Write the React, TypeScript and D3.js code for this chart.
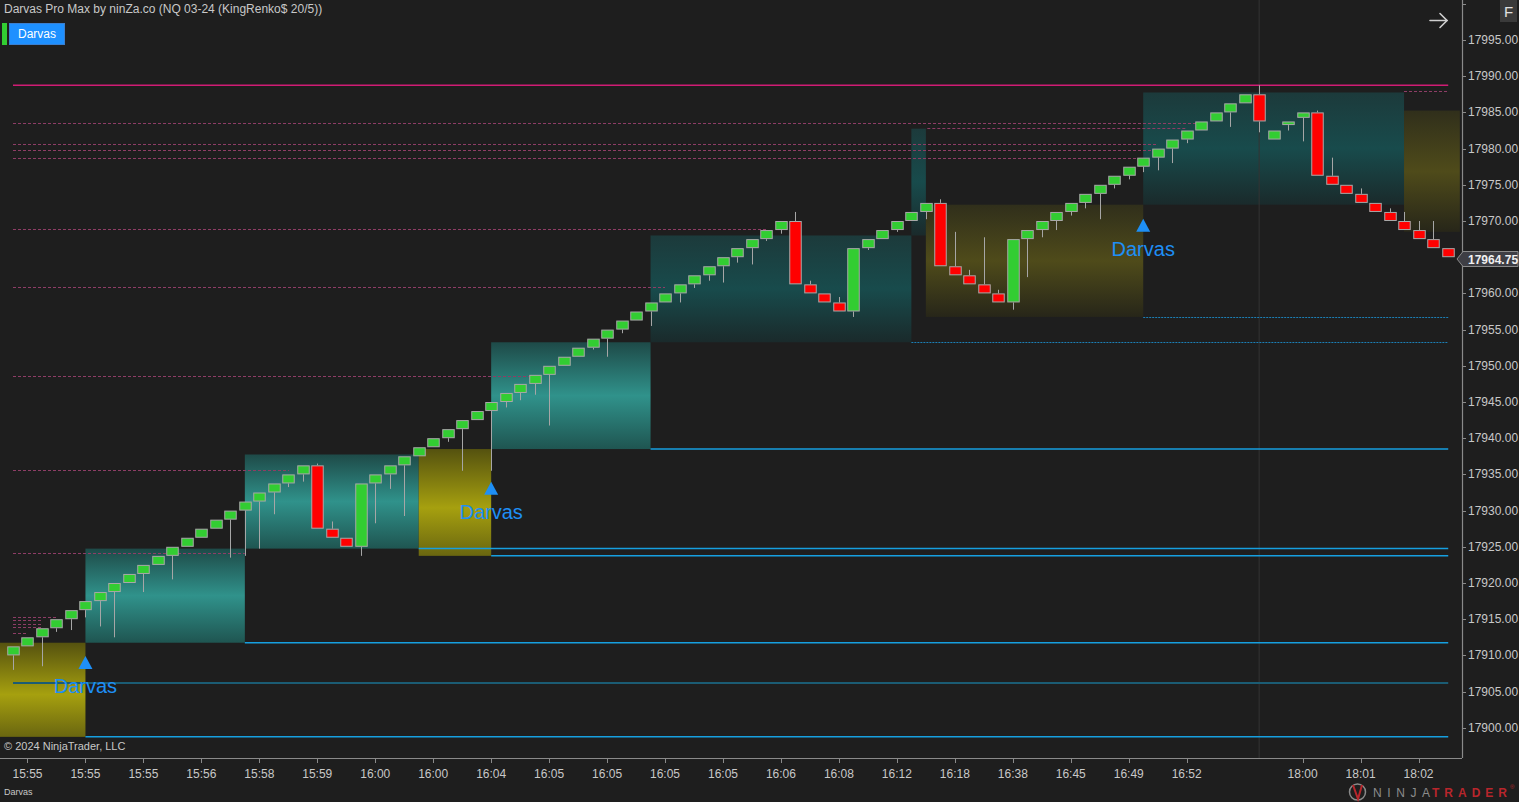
import React from 'react';
import * as d3 from 'd3';

// ---- Renko bars (KingRenko 20/5, NQ 03-24) ----
const opens = [
  17910, 17911.25, 17912.5, 17913.75, 17915, 17916.25, 17917.5, 17918.75, 17920, 17921.25,
  17922.5, 17923.75, 17925, 17926.25, 17927.5, 17928.75, 17930, 17931.25, 17932.5, 17933.75,
  17935, 17936.25, 17927.5, 17926.25, 17925, 17933.75, 17935, 17936.25, 17937.5, 17938.75,
  17940, 17941.25, 17942.5, 17943.75, 17945, 17946.25, 17947.5, 17948.75, 17950, 17951.25,
  17952.5, 17953.75, 17955, 17956.25, 17957.5, 17958.75, 17960, 17961.25, 17962.5, 17963.75,
  17965, 17966.25, 17967.5, 17968.75, 17970, 17961.25, 17960, 17958.75, 17957.5, 17966.25,
  17967.5, 17968.75, 17970, 17971.25, 17972.5, 17963.75, 17962.5, 17961.25, 17960, 17958.75,
  17967.5, 17968.75, 17970, 17971.25, 17972.5, 17973.75, 17975, 17976.25, 17977.5, 17978.75,
  17980, 17981.25, 17982.5, 17983.75, 17985, 17986.25, 17987.5, 17981.25, 17983.25, 17984.25,
  17985, 17976.25, 17975, 17973.75, 17972.5, 17971.25, 17970, 17968.75, 17967.5, 17966.25,
];
const closes = [
  17911.25, 17912.5, 17913.75, 17915, 17916.25, 17917.5, 17918.75, 17920, 17921.25, 17922.5,
  17923.75, 17925, 17926.25, 17927.5, 17928.75, 17930, 17931.25, 17932.5, 17933.75, 17935,
  17936.25, 17927.5, 17926.25, 17925, 17933.75, 17935, 17936.25, 17937.5, 17938.75, 17940,
  17941.25, 17942.5, 17943.75, 17945, 17946.25, 17947.5, 17948.75, 17950, 17951.25, 17952.5,
  17953.75, 17955, 17956.25, 17957.5, 17958.75, 17960, 17961.25, 17962.5, 17963.75, 17965,
  17966.25, 17967.5, 17968.75, 17970, 17961.25, 17960, 17958.75, 17957.5, 17966.25, 17967.5,
  17968.75, 17970, 17971.25, 17972.5, 17963.75, 17962.5, 17961.25, 17960, 17958.75, 17967.5,
  17968.75, 17970, 17971.25, 17972.5, 17973.75, 17975, 17976.25, 17977.5, 17978.75, 17980,
  17981.25, 17982.5, 17983.75, 17985, 17986.25, 17987.5, 17983.75, 17982.5, 17983.75, 17985,
  17976.25, 17975, 17973.75, 17972.5, 17971.25, 17970, 17968.75, 17967.5, 17966.25, 17965,
];
const highs = [
  17911.25, 17912.5, 17913.75, 17915, 17916.25, 17917.5, 17918.75, 17920, 17921.25, 17922.5,
  17923.75, 17925, 17926.25, 17927.5, 17928.75, 17930, 17931.25, 17932.5, 17933.75, 17935,
  17936.25, 17936.5, 17928.5, 17926.25, 17933.75, 17935, 17936.25, 17937.5, 17938.75, 17940,
  17941.25, 17942.5, 17943.75, 17945, 17946.25, 17947.5, 17948.75, 17950, 17951.25, 17952.5,
  17953.75, 17955, 17956.25, 17957.5, 17958.75, 17960, 17961.25, 17962.5, 17963.75, 17965,
  17966.25, 17967.5, 17968.75, 17970, 17971.25, 17961.75, 17960, 17959.5, 17966.25, 17967.5,
  17968.75, 17970, 17971.25, 17972.5, 17973, 17968.5, 17963.25, 17967.75, 17960.5, 17967.5,
  17968.75, 17970, 17971.25, 17972.5, 17973.75, 17975, 17976.25, 17977.5, 17978.75, 17980,
  17981.25, 17982.5, 17983.75, 17985, 17986.25, 17987.5, 17988.75, 17982.5, 17983.75, 17985,
  17985.25, 17978.75, 17975, 17974.5, 17972.5, 17971.75, 17971.25, 17970, 17970, 17966.25,
];
const lows = [
  17908, 17911.25, 17908.5, 17913.25, 17913.5, 17915.25, 17914, 17912.5, 17920, 17918.75,
  17922.5, 17920.5, 17925, 17926.25, 17927.5, 17923.5, 17923.75, 17924.75, 17929.5, 17933.25,
  17934, 17927.5, 17926.25, 17925, 17923.75, 17928.25, 17933, 17929.25, 17937.5, 17938.75,
  17939.5, 17935.5, 17942.5, 17935.5, 17944.25, 17945.25, 17946, 17941.75, 17950, 17951.25,
  17952.25, 17951.25, 17954.5, 17956.25, 17955.5, 17958.75, 17958.75, 17960.75, 17961.75, 17961.5,
  17964.25, 17964, 17967.25, 17968.25, 17961.25, 17960, 17958.75, 17957.5, 17956.75, 17966,
  17967.5, 17968.5, 17970, 17970.25, 17963.75, 17962.5, 17961.25, 17960, 17958.75, 17957.75,
  17962.25, 17967.75, 17968.75, 17970.75, 17971.75, 17970.25, 17974.5, 17975.75, 17976.75, 17977,
  17978, 17980.75, 17982.5, 17983.75, 17983, 17986.25, 17982.25, 17981.25, 17982.5, 17981,
  17976.25, 17975, 17973.75, 17972.5, 17971.25, 17970, 17968.75, 17967.5, 17966.25, 17965,
];
const lastPrice = 17964.75;

// ---- time axis ----
const tickBars = [1, 5, 9, 13, 17, 21, 25, 29, 33, 37, 41, 45, 49, 53, 57, 61, 65, 69, 73, 77, 81, 89, 93, 97];
const timeLabels = ['15:55', '15:55', '15:55', '15:56', '15:58', '15:59', '16:00', '16:00', '16:04', '16:05', '16:05', '16:05',
  '16:05', '16:06', '16:08', '16:12', '16:18', '16:38', '16:45', '16:49', '16:52', '18:00', '18:01', '18:02'];
const sessionBreakBar = 86;

// ---- price axis ----
const priceTicks = [17900, 17905, 17910, 17915, 17920, 17925, 17930, 17935, 17940, 17945, 17950, 17955,
  17960, 17965, 17970, 17975, 17980, 17985, 17990, 17995, 18000];

// ---- Darvas boxes: [startBar, endBar, top, bottom, type] ----
const boxStart = [-0.9, 5, 16, 28, 33, 44, 62, 63, 78, 96];
const boxEnd = [5, 16, 28, 33, 44, 62, 63, 78, 96, 99.85];
const boxTop = [17911.75, 17924.75, 17937.75, 17938.5, 17953.25, 17968, 17982.75, 17972.25, 17987.75, 17985.25];
const boxBottom = [17898.75, 17911.75, 17924.75, 17923.75, 17938.5, 17953.25, 17968, 17956.75, 17972.25, 17968.5];
const boxType = ['breakout', 'box', 'box', 'breakout', 'box', 'boxDim', 'boxDim', 'breakoutDim', 'boxDim', 'breakoutDim'];

// ---- level lines ----
const supportPrice = [17898.75, 17911.75, 17924.75, 17923.75, 17938.5];
const supportFrom = [5, 16, 28, 33, 44];
const signalLinePrice = 17906.25;
const dottedSupportPrice = [17953.25, 17956.75];
const dottedSupportFrom = [62, 78];
const resistancePrice = 17988.75;
const dashedPrice = [17983.6, 17982.8, 17980.65, 17979.85, 17978.65, 17968.85, 17960.85, 17948.55, 17935.6, 17924.1,
  17915.25, 17914.85, 17914.3, 17913.9, 17913.05, 17987.9];
const dashedFrom = [0, 63.1, 0, 0, 0, 0, 0, 0, 0, 0, 0, 0, 0, 0, 0, 96];
const dashedTo = [81.7, 81, 79, 79.2, 77.8, 52, 45, 35.7, 19.05, 16, 3, 2.07, 2.07, 2.07, 1.03, 99.05];

// ---- Darvas signals ----
const signalBars = [5, 33, 78];
const signalPrices = [17909.9, 17934, 17970.3];

const W = 1519;
const H = 802;
const FONT = 'Liberation Sans, Arial, sans-serif';

const gradients: Record<string, [number, string][]> = {
  breakout: [[0, '#55520f'], [0.55, '#a6a00f'], [1, '#6a6610']],
  box: [[0, '#1e4a48'], [0.5, '#30928b'], [1, '#1f5551']],
  boxDim: [[0, '#1c3a3b'], [0.5, '#184b4c'], [1, '#1a2a2b']],
  breakoutDim: [[0, '#302f1b'], [0.5, '#4f4b1a'], [1, '#272619']],
};

export default function App() {
  const x = d3.scaleLinear().domain([0, 99]).range([13, 1447.5]);
  const y = d3.scaleLinear().domain([17900, 17995]).range([727.8, 40]);
  const plotRight = 1462;
  const plotBottom = 758;
  const lineEnd = x(99.05);
  const bw = 11.5;
  const py = (p: number) => Math.round(y(p)) + 0.5;

  return (
    <svg width={W} height={H} style={{ position: 'fixed', left: 0, top: 0, display: 'block', background: '#1e1e1e' }}
      fontFamily={FONT}>
      <defs>
        {Object.entries(gradients).map(([k, stops]) => (
          <linearGradient key={k} id={`g-${k}`} x1="0" y1="0" x2="0" y2="1">
            {stops.map(([o, c], i) => <stop key={i} offset={o} stopColor={c} />)}
          </linearGradient>
        ))}
        <clipPath id="plot"><rect x={0} y={0} width={plotRight} height={plotBottom} /></clipPath>
      </defs>
      <rect x={0} y={0} width={W} height={H} fill="#1e1e1e" />

      <g clipPath="url(#plot)">
        {/* boxes */}
        {boxStart.map((b, i) => (
          <rect key={`box${i}`} x={x(b)} y={y(boxTop[i])} width={x(boxEnd[i]) - x(b)}
            height={y(boxBottom[i]) - y(boxTop[i])} fill={`url(#g-${boxType[i]})`} />
        ))}

        {/* session break */}
        <line x1={x(sessionBreakBar)} x2={x(sessionBreakBar)} y1={0} y2={plotBottom} stroke="#333" strokeWidth={1} />

        {/* dashed pink lines */}
        {dashedPrice.map((p, i) => (
          <line key={`d${i}`} x1={x(dashedFrom[i])} x2={x(dashedTo[i])} y1={py(p)} y2={py(p)}
            stroke="#8e3d66" strokeWidth={1} strokeDasharray="3,2" />
        ))}
        <line x1={x(0)} x2={lineEnd} y1={y(resistancePrice)} y2={y(resistancePrice)} stroke="#d01c74" strokeWidth={1.5} />

        {/* support lines */}
        {supportPrice.map((p, i) => (
          <line key={`s${i}`} x1={x(supportFrom[i])} x2={lineEnd} y1={y(p)} y2={y(p)}
            stroke="#169fe0" strokeWidth={1.5} />
        ))}
        <line x1={x(0)} x2={lineEnd} y1={Math.round(y(signalLinePrice))} y2={Math.round(y(signalLinePrice))} stroke="#1b5c74" strokeWidth={2} />
        {dottedSupportPrice.map((p, i) => (
          <line key={`ds${i}`} x1={x(dottedSupportFrom[i])} x2={lineEnd} y1={py(p)} y2={py(p)}
            stroke="#1c7fb5" strokeWidth={1} strokeDasharray="2,1" />
        ))}

        {/* candles */}
        {opens.map((o, i) => {
          const c = closes[i];
          const cx = Math.round(x(i)) + 0.5;
          const top = y(Math.max(o, c));
          const bot = y(Math.min(o, c));
          const up = c >= o;
          return (
            <g key={`c${i}`}>
              {highs[i] > Math.max(o, c) && (
                <line x1={cx} x2={cx} y1={y(highs[i])} y2={top} stroke="#a6a6a6" strokeWidth={1} />
              )}
              {lows[i] < Math.min(o, c) && (
                <line x1={cx} x2={cx} y1={bot} y2={y(lows[i])} stroke="#a6a6a6" strokeWidth={1} />
              )}
              <rect x={cx - bw / 2} y={top + 0.5} width={bw} height={Math.max(1.5, bot - top - 1)}
                fill={up ? '#32cd32' : '#ff0000'} stroke="#a8a8a8" strokeWidth={1} />
            </g>
          );
        })}

        {/* Darvas signals */}
        {signalBars.map((b, i) => {
          const cx = x(b);
          const ty = y(signalPrices[i]);
          return (
            <g key={`sig${i}`}>
              <path d={`M${cx},${ty} L${cx + 7},${ty + 13} L${cx - 7},${ty + 13} Z`} fill="#1e8ff5" />
              <text x={cx} y={ty + 37} textAnchor="middle" fontSize={20} fill="#1e8ff5">Darvas</text>
            </g>
          );
        })}
      </g>

      {/* axes */}
      <line x1={plotRight + 0.5} x2={plotRight + 0.5} y1={0} y2={plotBottom} stroke="#8a8a8a" strokeWidth={1.2} />
      <line x1={0} x2={plotRight} y1={plotBottom + 0.5} y2={plotBottom + 0.5} stroke="#8a8a8a" strokeWidth={1.2} />
      {priceTicks.map((p) => (
        <g key={`pt${p}`}>
          <line x1={plotRight} x2={plotRight + 4} y1={py(p)} y2={py(p)} stroke="#8a8a8a" />
          {p < 17999 && (
            <text x={plotRight + 6} y={y(p) + 4} fontSize={12} fill="#c8c8c8">{p.toFixed(2)}</text>
          )}
        </g>
      ))}
      {tickBars.map((b, i) => (
        <g key={`tt${i}`}>
          <line x1={Math.round(x(b)) + 0.5} x2={Math.round(x(b)) + 0.5} y1={plotBottom} y2={plotBottom + 5} stroke="#8a8a8a" />
          <text x={x(b)} y={778} fontSize={12} textAnchor="middle" fill="#c8c8c8">{timeLabels[i]}</text>
        </g>
      ))}

      {/* last price label */}
      {(() => {
        const ly = y(lastPrice);
        return (
          <g>
            <path d={`M${plotRight - 5},${ly} L${plotRight + 1},${ly - 7.5} L${W - 1},${ly - 7.5} L${W - 1},${ly + 7.5} L${plotRight + 1},${ly + 7.5} Z`}
              fill="#3e3e44" stroke="#8a8a8a" strokeWidth={1} />
            <text x={plotRight + 6} y={ly + 4.5} fontSize={12} fill="#f0f0f0" fontWeight="bold">{lastPrice.toFixed(2)}</text>
          </g>
        );
      })()}

      {/* header */}
      <text x={4} y={13} fontSize={12} fill="#c8c8c8">Darvas Pro Max by ninZa.co (NQ 03-24 (KingRenko$ 20/5))</text>
      <rect x={2} y={23} width={5} height={22} fill="#32cd32" />
      <rect x={9.5} y={23.5} width={55} height={21} fill="#1e90ff" stroke="#3a7fd0" strokeWidth={1} />
      <text x={37} y={38} fontSize={12} textAnchor="middle" fill="#ffffff">Darvas</text>

      {/* top-right controls */}
      <g stroke="#d0d0d0" strokeWidth={1.6} fill="none" strokeLinecap="round">
        <line x1={1430} x2={1447} y1={20.5} y2={20.5} />
        <polyline points="1440,13.5 1447,20.5 1440,27.5" />
      </g>
      <rect x={1500} y={0} width={17} height={22} fill="#3a3a3a" />
      <text x={1508.5} y={17} fontSize={15} textAnchor="middle" fill="#e0e0e0">F</text>

      {/* footer */}
      <text x={4} y={750} fontSize={11} fill="#c8c8c8">© 2024 NinjaTrader, LLC</text>
      <text x={4} y={795} fontSize={9} fill="#c8c8c8">Darvas</text>
      <g>
        <circle cx={1357.5} cy={792} r={8} fill="none" stroke="#8a8a8a" strokeWidth={1.5} />
        <path d="M1353,785 L1358,799 L1362,785" stroke="#b8262c" strokeWidth={2} fill="none" />
        <text x={1373} y={797} fontSize={12} fill="#8c8c8c" textLength={57} lengthAdjust="spacing">NINJA</text>
        <text x={1432} y={797} fontSize={12} fill="#b8262c" textLength={75} lengthAdjust="spacing" fontWeight="bold">TRADER</text>
        <text x={1510} y={789} fontSize={6} fill="#b8262c">®</text>
      </g>
    </svg>
  );
}
